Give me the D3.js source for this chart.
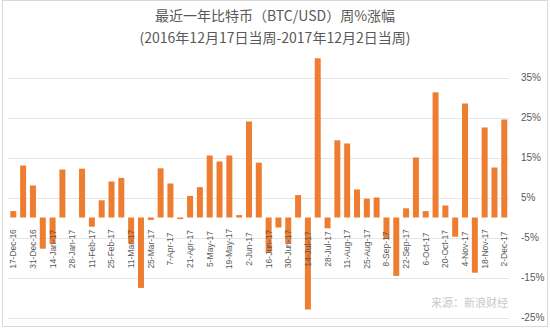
<!DOCTYPE html>
<html>
<head>
<meta charset="utf-8">
<script src="https://cdn.jsdelivr.net/npm/d3@7/dist/d3.min.js"></script>
<style>
  html, body { margin: 0; padding: 0; background: #fff; }
  svg { display: block; }
</style>
</head>
<body>
<svg id="chart" width="550" height="329"></svg>
<script>
// Weekly BTC/USD % change, week of 17 Dec 2016 to week of 2 Dec 2017
const weeks = [
  "17-Dec-16","24-Dec-16","31-Dec-16","7-Jan-17","14-Jan-17","21-Jan-17","28-Jan-17",
  "4-Feb-17","11-Feb-17","18-Feb-17","25-Feb-17","4-Mar-17","11-Mar-17","18-Mar-17",
  "25-Mar-17","1-Apr-17","7-Apr-17","14-Apr-17","21-Apr-17","28-Apr-17","5-May-17",
  "12-May-17","19-May-17","26-May-17","2-Jun-17","9-Jun-17","16-Jun-17","23-Jun-17",
  "30-Jun-17","7-Jul-17","14-Jul-17","21-Jul-17","28-Jul-17","4-Aug-17","11-Aug-17",
  "18-Aug-17","25-Aug-17","1-Sep-17","8-Sep-17","15-Sep-17","22-Sep-17","29-Sep-17",
  "6-Oct-17","13-Oct-17","20-Oct-17","27-Oct-17","4-Nov-17","11-Nov-17","18-Nov-17",
  "25-Nov-17","2-Dec-17"
];
const weeklyChange = [
  1.6, 13.0, 8.0, -7.8, -6.6, 12.0, 0.0,
  12.2, -2.3, 4.3, 9.0, 9.9, -6.5, -17.6,
  -0.6, 12.3, 8.5, -0.4, 5.4, 7.6, 15.5,
  14.0, 15.5, 0.6, 24.0, 13.7, -8.7, -2.5,
  -6.5, 5.6, -23.0, 39.8, -2.7, 19.3, 18.5,
  7.0, 4.7, 5.0, -5.2, -14.6, 2.3, 15.0,
  1.6, 31.3, 3.0, -4.8, 28.5, -13.8, 22.5,
  12.5, 24.5
];
const yTicks = [-25, -15, -5, 5, 15, 25, 35];
const titleLines = ["最近一年比特币（BTC/USD）周%涨幅", "(2016年12月17日当周-2017年12月2日当周)"];
const sourceNote = "来源：新浪财经";

const svg = d3.select("#chart");
const W = 550, H = 329;
const plotLeft = 8.4, plotRight = 509.2;

// chart frame
svg.append("rect")
  .attr("x", 2.5).attr("y", 0.5)
  .attr("width", W - 5).attr("height", H - 3)
  .attr("fill", "#fff").attr("stroke", "#d9d9d9").attr("stroke-width", 1);

const x = d3.scaleBand()
  .domain(weeks)
  .range([plotLeft, plotRight])
  .paddingInner(0.39)
  .paddingOuter(0.195);

const y = d3.scaleLinear()
  .domain([-25, 35])
  .range([317.5, 77.5]);

// horizontal gridlines
svg.append("g")
  .selectAll("line")
  .data(yTicks)
  .join("line")
  .attr("x1", plotLeft).attr("x2", plotRight)
  .attr("y1", d => Math.round(y(d)) + 0.5)
  .attr("y2", d => Math.round(y(d)) + 0.5)
  .attr("stroke", "#e6e6e6").attr("stroke-width", 1);

// right-hand value axis
const yAxis = d3.axisRight(y)
  .tickValues(yTicks)
  .tickSize(0)
  .tickPadding(0)
  .tickFormat(d => d + "%");
const yg = svg.append("g")
  .attr("transform", `translate(521,0)`)
  .call(yAxis);
yg.select(".domain").remove();
yg.selectAll("text")
  .attr("fill", "#595959")
  .attr("font-family", "'Liberation Sans', Arial, sans-serif")
  .attr("font-size", 10);

// bars
svg.append("g")
  .selectAll("rect")
  .data(weeklyChange)
  .join("rect")
  .attr("x", (d, i) => x(weeks[i]))
  .attr("width", x.bandwidth())
  .attr("y", d => y(Math.max(0, d)))
  .attr("height", d => Math.abs(y(d) - y(0)))
  .attr("fill", "#ED7D31");

// category labels, every second week, rotated and centred below the zero line
const labelWeeks = weeks.filter((w, i) => i % 2 === 0);
svg.append("g")
  .selectAll("text")
  .data(labelWeeks)
  .join("text")
  .attr("transform", d => `translate(${x(d) + x.bandwidth() / 2},249) rotate(-90)`)
  .attr("text-anchor", "middle")
  .attr("dy", "0.35em")
  .attr("fill", "#595959")
  .attr("font-family", "'Liberation Sans', Arial, sans-serif")
  .attr("font-size", 8.5)
  .text(d => d);

// title
svg.append("g")
  .selectAll("text")
  .data(titleLines)
  .join("text")
  .attr("x", 275)
  .attr("y", (d, i) => 21 + i * 22)
  .attr("text-anchor", "middle")
  .attr("fill", "#595959")
  .attr("font-family", "'Noto Sans CJK SC', sans-serif")
  .attr("font-size", 14)
  .text(d => d);

// source note
svg.append("text")
  .attr("x", 508).attr("y", 307)
  .attr("text-anchor", "end")
  .attr("fill", "#c8c8c8")
  .attr("font-family", "'Noto Sans CJK SC', sans-serif")
  .attr("font-size", 11)
  .text(sourceNote);
</script>
</body>
</html>
